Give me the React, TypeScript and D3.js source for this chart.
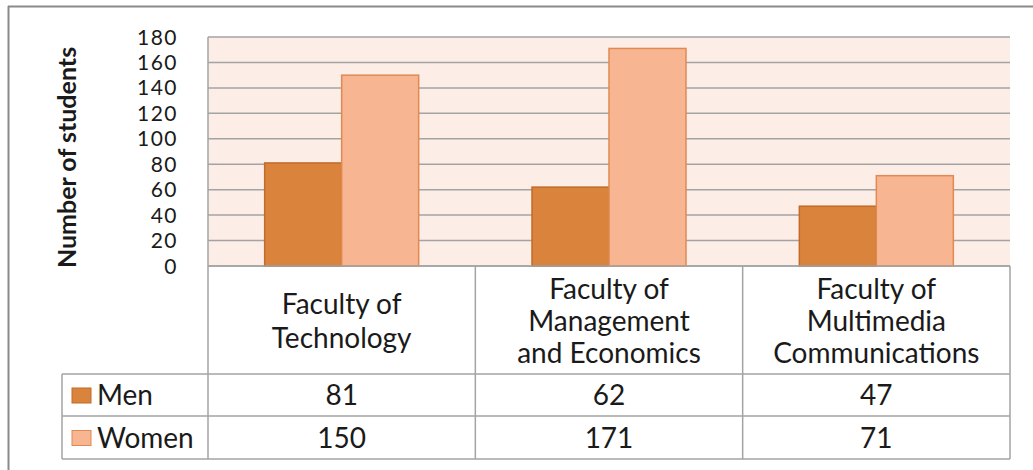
import React from "react";
import * as d3 from "d3";

const faculties = ["Technology", "Management", "Multimedia"];
const facultyLabels = [
  ["Faculty of", "Technology"],
  ["Faculty of", "Management", "and Economics"],
  ["Faculty of", "Multimedia", "Communications"],
];
const seriesNames = ["Men", "Women"];
const menValues = [81, 62, 47];
const womenValues = [150, 171, 71];
const yTicks = [0, 20, 40, 60, 80, 100, 120, 140, 160, 180];

const W = 1033;
const H = 470;
const FONT = "Lato, 'Open Sans', sans-serif";
const plot = { left: 208, right: 1010, top: 37, bottom: 266 };
const rows = { header: 374, men: 416, women: 459 };
const legendLeft = 62;
const colors: Record<string, { fill: string; stroke: string }> = {
  Men: { fill: "#DA833D", stroke: "#C26A28" },
  Women: { fill: "#F8B592", stroke: "#E08A52" },
};
const gridColor = "#A3A3A3";
const textColor = "#1a1a1a";

export default function App() {
  const y = d3.scaleLinear().domain([0, 180]).range([plot.bottom, plot.top]);
  const x0 = d3.scaleBand().domain(faculties).range([plot.left, plot.right]).padding(0);
  const step = x0.bandwidth();
  const gap = step * 0.212;
  const x1 = d3.scaleBand().domain(seriesNames).range([gap, step - gap]).padding(0);

  const seriesValues: Record<string, number[]> = { Men: menValues, Women: womenValues };
  const colEdges = faculties.map((f) => x0(f) as number).concat([plot.right]);

  return (
    <svg
      width={W}
      height={H}
      style={{ position: "absolute", left: 0, top: 0, background: "#fff" }}
      fontFamily={FONT}
    >
      {/* outer frame */}
      <line x1={8.5} y1={6} x2={8.5} y2={H} stroke="#8a8a8a" strokeWidth={2} />
      <line x1={8} y1={6.5} x2={W} y2={6.5} stroke="#8a8a8a" strokeWidth={2} />

      {/* plot background + gridlines */}
      <rect x={plot.left} y={plot.top} width={plot.right - plot.left} height={plot.bottom - plot.top} fill="#FDEDE7" />
      {yTicks.map((t) => (
        <line key={t} x1={plot.left} x2={plot.right} y1={y(t)} y2={y(t)} stroke={gridColor} strokeWidth={1.5} />
      ))}
      <line x1={plot.left} x2={plot.left} y1={plot.top} y2={rows.women} stroke={gridColor} strokeWidth={1.5} />

      {/* bars */}
      {seriesNames.map((s) =>
        faculties.map((f, i) => {
          const v = seriesValues[s][i];
          return (
            <rect
              key={s + f}
              x={(x0(f) as number) + (x1(s) as number)}
              y={y(v)}
              width={x1.bandwidth()}
              height={y(0) - y(v)}
              fill={colors[s].fill}
              stroke={colors[s].stroke}
              strokeWidth={1.5}
            />
          );
        })
      )}

      {/* y tick labels - tight stack, same as the reference */}
      {yTicks.map((t) => (
        <text
          key={t}
          x={178}
          y={y(t)}
          dy="0.36em"
          textAnchor="end"
          fontSize={21}
          letterSpacing={1.5}
          fill={textColor}
        >
          {t}
        </text>
      ))}

      {/* y title */}
      <text
        transform={`translate(76,${(plot.top + plot.bottom) / 2 + 6}) rotate(-90)`}
        textAnchor="middle"
        fontSize={25}
        fontWeight="bold"
        fill={textColor}
      >
        Number of students
      </text>

      {/* data table */}
      <g stroke={gridColor} strokeWidth={1.5} fill="none">
        <line x1={plot.left} x2={plot.right} y1={plot.bottom} y2={plot.bottom} />
        <line x1={legendLeft} x2={plot.right} y1={rows.header} y2={rows.header} />
        <line x1={legendLeft} x2={plot.right} y1={rows.men} y2={rows.men} />
        <line x1={legendLeft} x2={plot.right} y1={rows.women} y2={rows.women} />
        <line x1={legendLeft} x2={legendLeft} y1={rows.header} y2={rows.women} />
        {colEdges.slice(1).map((cx, i) => (
          <line key={i} x1={cx} x2={cx} y1={plot.bottom} y2={rows.women} />
        ))}
      </g>

      {faculties.map((f, i) => {
        const cx = (x0(f) as number) + step / 2;
        const lines = facultyLabels[i];
        const lh = lines.length === 2 ? 34 : 32;
        const midY = (plot.bottom + rows.header) / 2 + 1;
        return (
          <text key={f} textAnchor="middle" fontSize={28} fill={textColor}>
            {lines.map((l, j) => (
              <tspan key={j} x={cx} y={midY + (j - (lines.length - 1) / 2) * lh} dy="0.36em">
                {l}
              </tspan>
            ))}
          </text>
        );
      })}

      {seriesNames.map((s, r) => {
        const top = r === 0 ? rows.header : rows.men;
        const bottom = r === 0 ? rows.men : rows.women;
        const cy = (top + bottom) / 2;
        return (
          <g key={s}>
            <rect x={72} y={cy - 7} width={19} height={15} fill={colors[s].fill} stroke={colors[s].stroke} strokeWidth={1} />
            <text x={97} y={cy} dy="0.36em" fontSize={28} fill={textColor}>
              {s}
            </text>
            {faculties.map((f, i) => (
              <text
                key={f}
                x={(x0(f) as number) + step / 2}
                y={cy}
                dy="0.36em"
                textAnchor="middle"
                fontSize={28}
                fill={textColor}
              >
                {seriesValues[s][i]}
              </text>
            ))}
          </g>
        );
      })}
    </svg>
  );
}
